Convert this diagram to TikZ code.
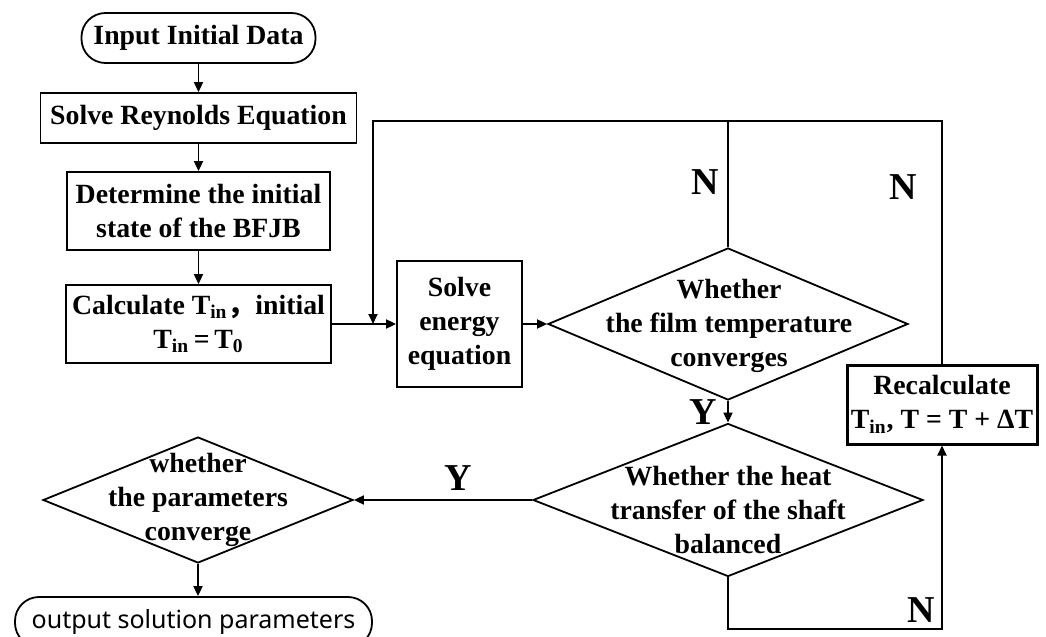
\documentclass[tikz,border=0pt]{standalone}
\usepackage{fontspec}
\setmainfont{Liberation Serif}
\newfontfamily\cjk{Noto Sans CJK SC}
\newfontfamily\outfont{Noto Sans}
\usetikzlibrary{shapes.geometric,arrows.meta}

\tikzset{
	txt/.style={font=\bfseries\fontsize{13.9}{17}\selectfont, align=center, inner sep=0pt},
	box/.style={txt, draw, line width=0.9pt, inner sep=1pt},
	term/.style={box, rounded corners=12pt},
	dia/.style={draw, shape=diamond, line width=0.9pt, inner sep=0pt},
	yn/.style={font=\bfseries\fontsize{19}{19}\selectfont, inner sep=0pt},
	conn/.style={line width=0.9pt},
	arr/.style={conn, -{Triangle[length=5pt,width=4.5pt]}},
}

\begin{document}
\begin{tikzpicture}[x=0.5pt, y=-0.5pt]
		\useasboundingbox (0, 0) rectangle (1046, 637);
	
		% left column
		\node[term, minimum width=117pt, minimum height=25pt] (start) at (198.5, 38) {Input Initial Data};
		\node[box, minimum width=158pt, minimum height=25pt] (reyn) at (198.5, 118) {Solve Reynolds Equation};
		\node[box, minimum width=131.5pt, minimum height=39pt] (init) at (198.5, 211) {Determine the initial\\state of the BFJB};
		\node[box, minimum width=132.5pt, minimum height=39pt] (calc) at (198.5, 324) {Calculate T\textsubscript{in}{\cjk ，}initial\\T\textsubscript{in}\,=\,T\textsubscript{0}};
	
		% iteration
		\node[box, minimum width=62.5pt, minimum height=63pt] (energy) at (459.5, 324) {Solve\\energy\\equation};
		\node[dia, minimum width=180pt, minimum height=76pt] (film) at (728, 324) {};
		\node[txt] (filmtxt) at (729, 326) {Whether\\the film temperature\\converges};
		\node[box, line width=1.5pt, minimum width=95pt, minimum height=39.5pt] (recalc) at (942, 404.5) {Recalculate\\T\textsubscript{in}, T = T + ΔT};
		\node[dia, minimum width=195pt, minimum height=76.5pt] (heat) at (728, 500) {};
		\node[txt] (heattxt) at (728, 510) {Whether the heat\\transfer of the shaft\\balanced};
		\node[dia, minimum width=155pt, minimum height=63pt] (param) at (198, 500) {};
		\node[txt] (paramtxt) at (198, 500) {whether\\the parameters\\converge};
		\node[draw, line width=0.9pt, rounded corners=12pt, minimum width=178.5pt, minimum height=25pt,
			font=\outfont\fontsize{12.5}{14}\selectfont] (outp) at (193.5, 622) {output solution parameters};
	
		\coordinate (lt) at (373, 121);
		\coordinate (rb) at (942, 629);
	
		\draw[arr] (start) -- (reyn);
		\draw[arr] (reyn) -- (init);
		\draw[arr] (init) -- (calc);
		\draw[arr] (calc.east) -- (energy.west);
		\draw[arr] (energy.east) -- (film.west);
		\draw[arr] (recalc.north) |- (lt) -- (lt |- energy.west);
		\draw[conn] (film.north) -- (film.north |- lt);
		\draw[arr] (film.south) -- (heat.north);
		\draw[arr] (heat.west) -- (param.east);
		\draw[arr] (param.south) -- (param.south |- outp.north);
		\draw[arr] (heat.south) |- (rb) -- (recalc.south);
	
		\node[yn] (n1) at (705, 182) {N};
		\node[yn] (n2) at (903, 187) {N};
		\node[yn] (n3) at (921, 610) {N};
		\node[yn] (y1) at (703, 412) {Y};
		\node[yn] (y2) at (458, 478) {Y};
	\end{tikzpicture}
\end{document}
